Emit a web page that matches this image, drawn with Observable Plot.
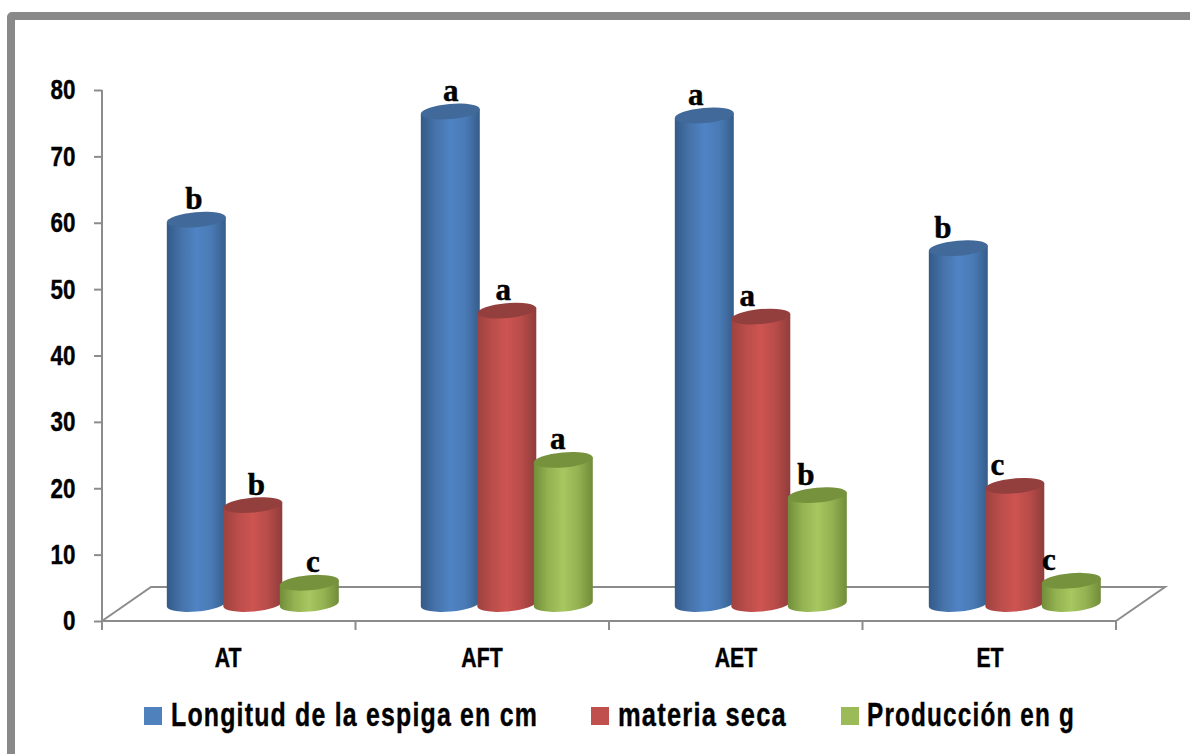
<!DOCTYPE html>
<html lang="es">
<head>
<meta charset="utf-8">
<title>Longitud de la espiga, materia seca y producción</title>
<script src="https://cdn.jsdelivr.net/npm/d3@7"></script>
<script src="https://cdn.jsdelivr.net/npm/@observablehq/plot@0.6"></script>
<style>
  html, body { margin: 0; padding: 0; background: #fff; }
  #page { position: relative; width: 1190px; height: 754px; overflow: hidden; }
  #border { position: absolute; left: 7px; top: 12px; width: 1400px; height: 1000px;
            border: 8px solid #898989; border-radius: 5px; box-sizing: border-box; }
  #chart { position: absolute; left: 0; top: 0; }
  .key { position: absolute; width: 18px; height: 18px; top: 707px; }
  .key-label { position: absolute; top: 694px; font: bold 33px "Liberation Sans", sans-serif;
               line-height: 42px; color: #000; letter-spacing: 1.6px; white-space: nowrap;
               transform-origin: left center; -webkit-text-stroke: 0.4px #000; }
</style>
</head>
<body>
<div id="page">
  <div id="border"></div>
  <div id="chart"></div>
</div>
<script>
// Treatments and measured variables
const treatments = ["AT", "AFT", "AET", "ET"];
const seriesNames = ["Longitud de la espiga en cm", "materia seca", "Producción en g"];
const longitud = [57.9, 74.2, 73.6, 53.6];
const materiaSeca = [14.9, 44.2, 43.3, 17.8];
const produccion = [3.2, 21.7, 16.4, 3.5];
const letrasLongitud = ["b", "a", "a", "b"];
const letrasMateria = ["b", "a", "a", "c"];
const letrasProduccion = ["c", "a", "b", "c"];
const yTicks = [0, 10, 20, 30, 40, 50, 60, 70, 80];

// Horizontal nudges that keep each significance letter clear of its neighbour
const letterNudge = [
  [-3, 0, -9, -16],
  [3, -4, -14, -18],
  [3, -6, -12, -23]
];

const axisGray = "#8c8c8c";
const sans = '"Liberation Sans", sans-serif';
const depthX = 49, depthY = 34;          // depth of the floor
const step = 56.5;                       // spacing of the cylinders in a group
const groupShift = 23.8;                 // cylinders stand mid-way across the floor
const tilt = -5;                         // tilt of the elliptical ends, degrees
const capRy = 7.5;

const palette = [
  {id: "cyl-blue", key: "#4f81bd", cap: "#41699a", stops: ["#335a88", "#4673aa", "#4f83c4", "#4a7bb6", "#365d8b"]},
  {id: "cyl-red", key: "#c0504d", cap: "#933f3d", stops: ["#9e4240", "#ba4d4a", "#cd5451", "#b84c49", "#8f3d3b"]},
  {id: "cyl-green", key: "#9bbb59", cap: "#76923c", stops: ["#728d3a", "#94b351", "#a7c761", "#94b251", "#718c39"]}
];

const columns = [longitud, materiaSeca, produccion];
const letters = [letrasLongitud, letrasMateria, letrasProduccion];

// Gradient definitions used as bar fills
function gradients() {
  const defs = d3.create("svg:defs");
  for (const p of palette) {
    const g = defs.append("linearGradient").attr("id", p.id)
      .attr("x1", 0).attr("x2", 1).attr("y1", 0).attr("y2", 0);
    p.stops.forEach((c, i) => g.append("stop").attr("offset", i / (p.stops.length - 1)).attr("stop-color", c));
  }
  return defs.node();
}

// Floor outline, value axis line and the category ticks
function floor(index, scales, values, dims) {
  const x0 = dims.marginLeft, x1 = dims.width - dims.marginRight;
  const y0 = scales.y(0), yTop = scales.y(80);
  const band = (x1 - x0) / treatments.length;
  const g = d3.create("svg:g").attr("fill", "none").attr("stroke", axisGray).attr("stroke-width", 2);
  const d = d3.path();
  d.moveTo(x0, yTop); d.lineTo(x0, y0 + 9);
  d.moveTo(x0, y0); d.lineTo(x1, y0);
  d.moveTo(x0, y0); d.lineTo(x0 + depthX, y0 - depthY); d.lineTo(x1 + depthX, y0 - depthY); d.lineTo(x1, y0);
  for (let i = 1; i <= treatments.length; ++i) {
    d.moveTo(x0 + i * band, y0); d.lineTo(x0 + i * band, y0 + 9);
  }
  g.append("path").attr("d", d.toString());
  return g.node();
}

// Turns each bar rectangle into a cylinder with tilted elliptical ends
function cylinder(color) {
  return function(index, scales, values, dims, context, next) {
    const g = next(index, scales, values, dims, context);
    const a = tilt * Math.PI / 180;
    for (const r of Array.from(g.querySelectorAll("rect"))) {
      const x = +r.getAttribute("x"), w = +r.getAttribute("width");
      const top = +r.getAttribute("y"), h = +r.getAttribute("height");
      const cx = x + w / 2, rx = w / 2 + 1.2;
      const ex = rx * Math.cos(a), ey = rx * Math.sin(a);
      const arc = `A${rx} ${capRy} ${tilt} 0 0`;
      const body = document.createElementNS("http://www.w3.org/2000/svg", "path");
      body.setAttribute("d",
        `M${cx - ex} ${top - ey}L${cx - ex} ${top + h - ey}${arc} ${cx + ex} ${top + h + ey}L${cx + ex} ${top + ey}Z`);
      body.setAttribute("fill", `url(#${color.id})`);
      const cap = document.createElementNS("http://www.w3.org/2000/svg", "path");
      cap.setAttribute("d",
        `M${cx - ex} ${top - ey}${arc} ${cx + ex} ${top + ey}${arc} ${cx - ex} ${top - ey}Z`);
      cap.setAttribute("fill", color.cap);
      r.replaceWith(body);
      body.after(cap);
    }
    return g;
  };
}

const bars = columns.map((column, s) => {
  const rows = treatments.map((t, i) => ({treatment: t, value: column[i]}));
  return Plot.barY(rows, {
    x: "treatment",
    y: "value",
    fill: `url(#${palette[s].id})`,
    insetLeft: 98.6,
    insetRight: 98.6,
    dx: groupShift + (s - 1) * step,
    dy: -depthY / 2,
    render: cylinder(palette[s])
  });
});

const letterMarks = columns.flatMap((column, s) =>
  treatments.map((t, i) => Plot.text([{treatment: t, value: column[i], letter: letters[s][i]}], {
    x: "treatment",
    y: "value",
    text: "letter",
    dx: groupShift + (s - 1) * step + letterNudge[s][i],
    dy: -depthY / 2 - 21,
    fontFamily: '"Liberation Serif", serif',
    fontWeight: "bold",
    fontSize: 31,
    fill: "#000",
    stroke: "#000",
    strokeWidth: 0.5
  }))
);

const chart = Plot.plot({
  width: 1190,
  height: 690,
  marginLeft: 102,
  marginRight: 74,
  marginTop: 90,
  marginBottom: 69,
  style: {background: "transparent", fontFamily: sans, overflow: "visible"},
  x: {domain: treatments, padding: 0, range: [101, 1118], label: null},
  y: {domain: [0, 80], label: null},
  marks: [
    gradients,
    floor,
    Plot.axisY(yTicks, {
      anchor: "left", label: null, tickSize: 8, tickPadding: 19, stroke: axisGray, strokeWidth: 2,
      fill: "#000", fontSize: 28, fontWeight: "bold"
    }),
    Plot.axisX({
      anchor: "bottom", label: null, tickSize: 0, tickPadding: 25.5, dx: -1.5,
      fill: "#000", fontSize: 25, fontWeight: "bold"
    }),
    ...bars,
    ...letterMarks
  ]
});
document.getElementById("chart").append(chart);

// Narrow the axis labels: the installed sans has no condensed cut
function condense(selector, sx, sy) {
  chart.querySelectorAll(selector).forEach(t => {
    t.setAttribute("transform", `${t.getAttribute("transform") || ""} scale(${sx},${sy})`);
    t.setAttribute("stroke", "#000");
    t.setAttribute("stroke-width", 0.4);
  });
}
condense('g[aria-label="y-axis tick label"] text', 0.8, 1);
condense('g[aria-label="x-axis tick label"] text', 0.85, 1.12);

// Legend below the plot
const page = document.getElementById("page");
const legendX = [[144, 171, 367], [591, 618, 169], [841, 867, 208]];
seriesNames.forEach((name, i) => {
  const key = document.createElement("div");
  key.className = "key";
  key.style.left = legendX[i][0] + "px";
  key.style.background = palette[i].key;
  const label = document.createElement("div");
  label.className = "key-label";
  label.style.left = legendX[i][1] + "px";
  label.textContent = name;
  page.append(key, label);
  label.style.transform = `scaleX(${legendX[i][2] / label.getBoundingClientRect().width})`;
});
</script>
</body>
</html>
